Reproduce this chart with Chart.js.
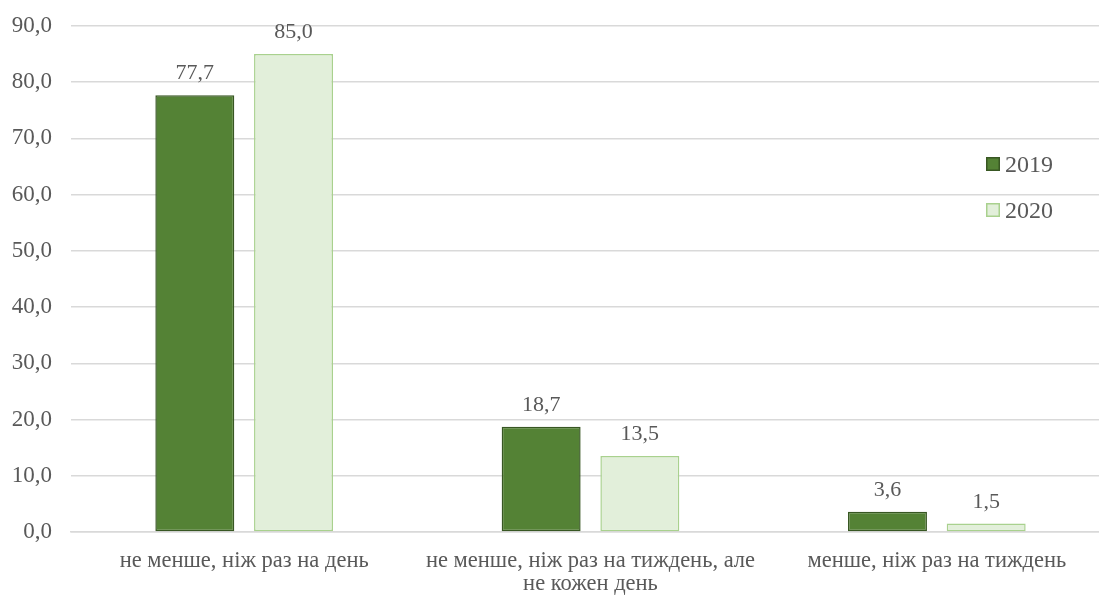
<!DOCTYPE html>
<html>
<head>
<meta charset="utf-8">
<script src="https://cdn.jsdelivr.net/npm/chart.js@4"></script>
<style>
  html, body { margin: 0; background: #fff; overflow: hidden; }
  #wrap { width: 1110px; height: 595px; }
</style>
</head>
<body>
<div id="wrap"><canvas id="myChart"></canvas></div>
<script>
const kategorii = [
    'не менше, ніж раз на день',
    ['не менше, ніж раз на тиждень, але', 'не кожен день'],
    'менше, ніж раз на тиждень'
]
const roky = ['2019', '2020']
const values2019 = [77.7, 18.7, 3.6]
const values2020 = [85.0, 13.5, 1.5]

const fmt = v => v.toFixed(1).replace('.', ',')
const fontName = '"Liberation Serif", "Times New Roman", serif'
const textColor = '#595959'

// підписи над стовпчиками
const valueLabels = {
    id: 'valueLabels',
    afterDatasetsDraw(chart) {
        const c = chart.ctx
        c.save()
        c.font = '22px ' + fontName
        c.fillStyle = textColor
        c.textAlign = 'center'
        c.textBaseline = 'alphabetic'
        chart.data.datasets.forEach((ds, i) => {
            chart.getDatasetMeta(i).data.forEach((bar, j) => {
                c.fillText(fmt(ds.data[j]), bar.x, bar.y - 16)
            })
        })
        c.restore()
    }
}

// легенда праворуч усередині області графіка
const sideLegend = {
    id: 'sideLegend',
    afterDraw(chart) {
        const c = chart.ctx
        c.save()
        c.font = '24px ' + fontName
        c.textBaseline = 'alphabetic'
        chart.data.datasets.forEach((ds, i) => {
            const y = 164 + i * 46
            c.fillStyle = ds.backgroundColor
            c.fillRect(986, y - 7, 14, 14)
            c.strokeStyle = ds.borderColor
            c.lineWidth = 1.5
            c.strokeRect(986.75, y - 6.25, 12.5, 12.5)
            c.fillStyle = textColor
            c.fillText(ds.label, 1005, y + 8)
        })
        c.restore()
    }
}

const myChart = new Chart(document.getElementById('myChart'), {
    type: 'bar',
    data: {
        labels: kategorii,
        datasets: [{
            label: roky[0],
            data: values2019,
            backgroundColor: '#548235',
            borderColor: '#385723',
            borderWidth: 1.5,
            borderSkipped: false
        }, {
            label: roky[1],
            data: values2020,
            backgroundColor: '#E2EFDA',
            borderColor: '#A9D18E',
            borderWidth: 1.5,
            borderSkipped: false
        }]
    },
    options: {
        responsive: true,
        maintainAspectRatio: false,
        animation: false,
        categoryPercentage: 0.57,
        barPercentage: 0.8,
        layout: { padding: { top: 26, right: 0, left: 0, bottom: 0 } },
        plugins: {
            legend: { display: false },
            tooltip: { enabled: false }
        },
        scales: {
            x: {
                grid: { display: false },
                border: { color: '#d9d9d9', width: 1.5 },
                ticks: {
                    color: textColor,
                    font: { family: fontName, size: 22.5, lineHeight: 1.0 },
                    maxRotation: 0,
                    padding: 10
                },
                afterFit(scale) { scale.height = 63 }
            },
            y: {
                min: 0,
                max: 90,
                ticks: {
                    stepSize: 10,
                    color: textColor,
                    font: { family: fontName, size: 23, lineHeight: 0.6 },
                    padding: 19,
                    callback: v => fmt(v)
                },
                grid: { color: '#d9d9d9', lineWidth: 1.5, drawTicks: false },
                border: { display: false },
                afterFit(scale) { scale.width = 71 }
            }
        }
    },
    plugins: [valueLabels, sideLegend]
})
</script>
</body>
</html>
